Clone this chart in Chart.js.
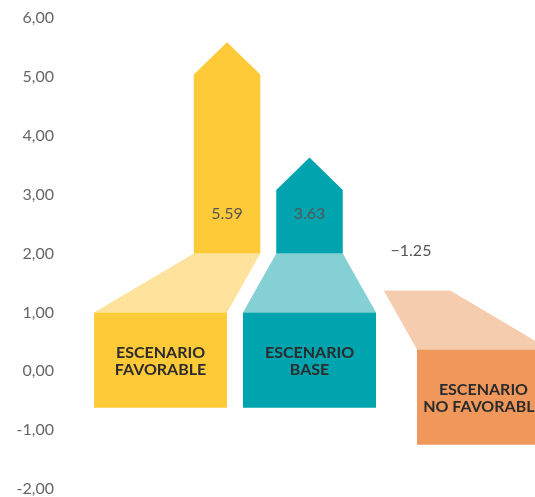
<!DOCTYPE html>
<html>
<head>
<meta charset="utf-8">
<script src="https://cdn.jsdelivr.net/npm/chart.js@4.4.1/dist/chart.umd.min.js"></script>
<style>
  html, body { margin: 0; padding: 0; background: #fff; }
  #wrap { width: 535px; height: 497px; }
</style>
</head>
<body>
<div id="wrap"><canvas id="chart"></canvas></div>
<script>
// scenario data
const scenarioNames = [['ESCENARIO', 'FAVORABLE'], ['ESCENARIO', 'BASE'], ['ESCENARIO', 'NO FAVORABLE']];
const scenarioValues = [5.59, 3.63, -1.25];
const valueLabels = ['5.59', '3.63', '\u22121.25'];
const yTicks = [-2, -1, 0, 1, 2, 3, 4, 5, 6];

// layout of each block, in x units of one box width
const slotX = [0.756, 1.876, 3.184];
const shaftOffset = [0.5, 0, -0.5];
const direction = ['up', 'up', 'down'];
const X_MAX = 475 / 133;
const BOX_H = 1.62;   // box height in y units
const FACE_H = 1.0;   // slanted top face
const HEAD_H = 0.55;  // arrow head

const mainColors = ['#FFCA38', '#00A4AE', '#F0985B'];
const lightColors = ['#FFE39C', '#84D0D5', '#F5CDAE'];

function poly(ctx, pts) {
    ctx.beginPath();
    pts.forEach((p, i) => i ? ctx.lineTo(p[0], p[1]) : ctx.moveTo(p[0], p[1]));
    ctx.closePath();
    ctx.fill();
}

const blocksPlugin = {
    id: 'blocks',
    afterDatasetsDraw(chart) {
        const ctx = chart.ctx;
        const xs = chart.scales.x, ys = chart.scales.y;
        const px = v => xs.getPixelForValue(v);
        const py = v => ys.getPixelForValue(v);

        scenarioValues.forEach((val, i) => {
            const cx = slotX[i];
            const fx = cx + shaftOffset[i];
            const boxTop = direction[i] === 'up' ? 1 : val + BOX_H;
            const boxBottom = direction[i] === 'up' ? boxTop - BOX_H : val;
            const faceTop = boxTop + FACE_H;

            ctx.save();
            // slanted face
            ctx.fillStyle = lightColors[i];
            poly(ctx, [
                [px(fx - 0.25), py(faceTop)], [px(fx + 0.25), py(faceTop)],
                [px(cx + 0.5), py(boxTop)], [px(cx - 0.5), py(boxTop)]
            ]);
            // arrow shaft + head
            if (direction[i] === 'up') {
                ctx.fillStyle = mainColors[i];
                poly(ctx, [
                    [px(fx - 0.25), py(faceTop)], [px(fx + 0.25), py(faceTop)],
                    [px(fx + 0.25), py(val - HEAD_H)], [px(fx), py(val)],
                    [px(fx - 0.25), py(val - HEAD_H)]
                ]);
            }
            // box
            ctx.fillStyle = mainColors[i];
            poly(ctx, [
                [px(cx - 0.5), py(boxTop)], [px(cx + 0.5), py(boxTop)],
                [px(cx + 0.5), py(boxBottom)], [px(cx - 0.5), py(boxBottom)]
            ]);

            // box caption
            ctx.fillStyle = '#2b2b2b';
            ctx.font = 'bold 16px Lato';
            ctx.textAlign = 'center';
            ctx.textBaseline = 'middle';
            const my = py((boxTop + boxBottom) / 2) + 1;
            ctx.fillText(scenarioNames[i][0], px(cx), my - 8.5);
            ctx.fillText(scenarioNames[i][1], px(cx), my + 8.5);

            // value label
            ctx.fillStyle = '#555';
            ctx.font = '16px Lato';
            ctx.fillText(valueLabels[i], px(fx) - (direction[i] === 'down' ? 6 : 0), py(faceTop + 0.68));
            ctx.restore();
        });
    }
};

new Chart(document.getElementById('chart'), {
    type: 'scatter',
    data: {
        datasets: [{
            data: scenarioValues.map((v, i) => ({ x: slotX[i], y: v })),
            pointRadius: 0
        }]
    },
    options: {
        responsive: true,
        maintainAspectRatio: false,
        animation: false,
        layout: { padding: { top: 18, bottom: 8, left: 0, right: 0 } },
        plugins: { legend: { display: false }, tooltip: { enabled: false } },
        scales: {
            x: { type: 'linear', min: 0, max: X_MAX, display: false },
            y: {
                min: yTicks[0],
                max: yTicks[yTicks.length - 1],
                afterFit: scale => {
                    scale.width = 60;
                    scale.paddingTop = 0;
                    scale.paddingBottom = 0;
                },
                afterBuildTicks: scale => { scale.ticks = yTicks.map(v => ({ value: v })); },
                grid: { display: false, drawTicks: false },
                border: { display: false },
                ticks: {
                    padding: 6,
                    color: '#666',
                    font: { family: 'Lato', size: 16 },
                    callback: v => v.toFixed(2).replace('.', ',')
                }
            }
        }
    },
    plugins: [blocksPlugin]
});
</script>
</body>
</html>
